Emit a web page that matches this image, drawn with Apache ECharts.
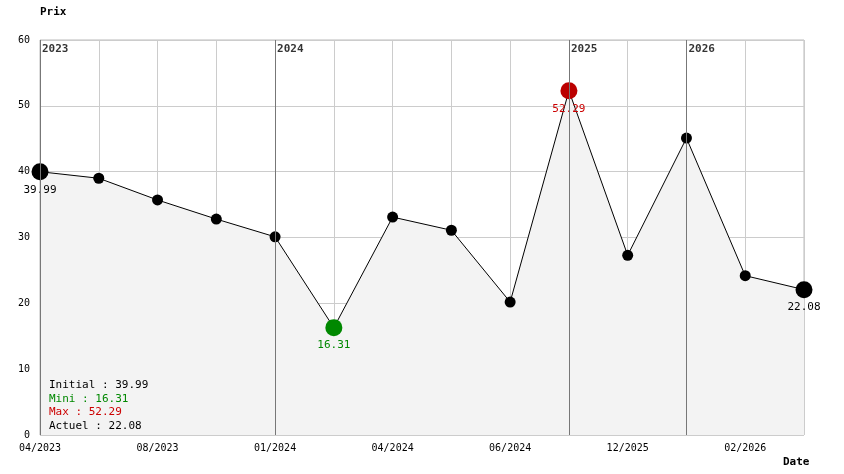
<!DOCTYPE html>
<html><head><meta charset="utf-8">
<script src="https://cdn.jsdelivr.net/npm/echarts@6/dist/echarts.min.js"></script>
<style>html,body{margin:0;padding:0;background:#fff}#c{width:844px;height:474px}</style>
</head><body><div id="c"></div>
<script>
const categories = ['04/2023','','08/2023','','01/2024','','04/2024','','06/2024','','12/2025','','02/2026',''];
const values = [39.99,39.0,35.7,32.8,30.1,16.31,33.1,31.1,20.2,52.29,27.3,45.1,24.2,22.08];
const yearIdx = [0,4,9,11];
const yearLabels = ['2023','2024','2025','2026'];
const statLines = [['Initial : 39.99','#000'],['Mini : 16.31','#008800'],['Max : 52.29','#cc0000'],['Actuel : 22.08','#000']];
const F = 'DejaVu Sans Mono';
const chart = echarts.init(document.getElementById('c'));
const special = {0:'#000',5:'#008800',9:'#bb0000',13:'#000'};
const data = values.map((v,i)=>{
  const o={value:v};
  if(special[i]!==undefined){
    o.symbolSize=17; o.itemStyle={color:special[i]};
    o.label={show:true,position:'bottom',distance:4,color:i==5?'#008800':(i==9?'#cc0000':'#000'),fontFamily:F,fontSize:11,formatter:v.toFixed(2)};
  }
  return o;
});
const graphics = statLines.map((s,k)=>({type:'text',left:49,top:380+k*13.5,z:100,
  style:{text:s[0],fill:s[1],font:'11px "DejaVu Sans Mono"'}}));
graphics.push({type:'text',left:783,top:457,z:100,style:{text:'Date',fill:'#000',font:'bold 11px "DejaVu Sans Mono"'}});
chart.setOption({
  animation:false,
  grid:{left:40,right:40,top:40,bottom:39,show:true,borderColor:'#bbb',borderWidth:1},
  xAxis:{type:'category',data:categories,boundaryGap:false,
    axisLine:{show:false},axisTick:{show:false},
    axisLabel:{interval:0,fontFamily:F,fontSize:10,color:'#000',margin:8},
    splitLine:{show:true,interval:0,lineStyle:{color:'#ccc'}}},
  yAxis:{type:'value',min:0,max:60,interval:10,
    axisLine:{show:false},axisTick:{show:false},
    axisLabel:{fontFamily:F,fontSize:10,color:'#000',margin:10},
    splitLine:{lineStyle:{color:'#ccc'}},
    name:'Prix',nameLocation:'end',nameGap:22,
    nameTextStyle:{fontFamily:F,fontWeight:'bold',fontSize:11,color:'#000',align:'left'}},
  series:[
    {type:'line',data:data,symbol:'circle',symbolSize:11,
      itemStyle:{color:'#000'},lineStyle:{color:'#000',width:1},
      areaStyle:{color:'#f3f3f3',opacity:1},z:3,
      markLine:{silent:true,symbol:'none',label:{show:false},lineStyle:{color:'#777',type:'solid',width:1},
        data:yearIdx.map(i=>({xAxis:i}))}},
    {type:'scatter',symbolSize:0,z:4,
      data:yearIdx.map((i,k)=>({value:[i,58.6],label:{formatter:yearLabels[k]}})),
      label:{show:true,position:'right',distance:2,fontFamily:F,fontWeight:'bold',fontSize:11,color:'#000'}}
  ],
  graphic:graphics
});
</script></body></html>
